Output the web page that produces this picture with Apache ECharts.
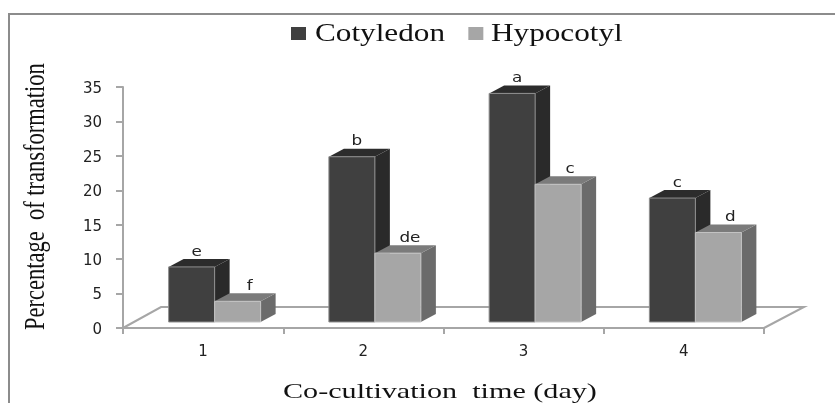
<!DOCTYPE html>
<html><head><meta charset="utf-8">
<style>html,body{margin:0;padding:0;background:#fff}#c{width:835px;height:403px}</style>
<script src="https://cdn.jsdelivr.net/npm/echarts@6/dist/echarts.min.js"></script>
</head><body><div id="c"></div>
<script>
const categories = ['1','2','3','4'];
const cotyledon = [8,24,33.2,18];
const hypocotyl = [3,10,20,13];
const cotyledonLetters = ['e','b','a','c'];
const hypocotylLetters = ['f','de','c','d'];
const xTitle = 'Co-cultivation  time (day)';
const yTitle = 'Percentage  of transformation';

const DX = 15, DY = 8, BASE = 6, BW = 46;
function bar3d(side, front, top, right, outline, letters){
  return function(params, api){
    const i = api.value(0), c = api.coord([i,0]), t = api.coord([i,api.value(1)]);
    const x0 = c[0] + 11.5 + (side<0 ? -BW : 0), x1 = x0 + BW;
    const yb = c[1] - BASE, yt = t[1] - BASE;
    return {type:'group', children:[
      {type:'polygon', shape:{points:[[x1,yt],[x1+DX,yt-DY],[x1+DX,yb-DY],[x1,yb]]}, style:{fill:right}},
      {type:'polygon', shape:{points:[[x0,yt],[x0+DX,yt-DY],[x1+DX,yt-DY],[x1,yt]]}, style:{fill:top}},
      {type:'rect', shape:{x:x0,y:yt,width:BW,height:yb-yt}, style:{fill:front, stroke:outline, lineWidth:1}},
      {type:'text', x:x0+(side<0?28:35), y:yt-15, scaleX:1.2, style:{text:letters[i], fill:'#222', font:'14px "DejaVu Sans"', align:'center', verticalAlign:'middle'}}
    ]};
  };
}
function floor(params, api){
  const c = api.coord([0,0]), d = api.coord([3,0]), half = api.size([1,0])[0]/2;
  const l = c[0]-half, r = d[0]+half;
  return {type:'polyline', shape:{points:[[l,c[1]],[l+38,c[1]-21],[r+40,c[1]-21],[r,c[1]]]}, style:{stroke:'#a6a6a6', lineWidth:2, fill:'none'}};
}
const serif = '"Liberation Serif"';
const chart = echarts.init(document.getElementById('c'), null, {renderer:'canvas'});
chart.setOption({
  animation:false,
  backgroundColor:'#fff',
  graphic:[
    {type:'polyline', shape:{points:[[9,403],[9,14],[835,14]]}, style:{stroke:'#8c8c8c', lineWidth:2, fill:'none'}, silent:true},
    {type:'text', x:315, y:34, scaleX:1.2, style:{text:'Cotyledon', font:'26px '+serif, fill:'#111', align:'left', verticalAlign:'middle'}},
    {type:'text', x:491, y:34, scaleX:1.2, style:{text:'Hypocotyl', font:'26px '+serif, fill:'#111', align:'left', verticalAlign:'middle'}},
    {type:'text', x:283, y:392, scaleX:1.37, style:{text:xTitle, font:'22px '+serif, fill:'#111', align:'left', verticalAlign:'middle'}},
    {type:'text', x:36, y:330, rotation:Math.PI/2, scaleX:0.75, style:{text:yTitle, font:'30px '+serif, fill:'#111', align:'left', verticalAlign:'middle'}}
  ],
  legend:{show:true, top:22, left:286, itemWidth:15, itemHeight:13, itemGap:154, formatter:()=>' ',
    textStyle:{fontSize:12},
    data:[{name:'Cotyledon',icon:'rect',itemStyle:{color:'#404040'}},{name:'Hypocotyl',icon:'rect',itemStyle:{color:'#a6a6a6'}}]},
  grid:{left:123, right:71, top:87, bottom:75},
  xAxis:{type:'category', data:categories,
    axisLine:{lineStyle:{color:'#a6a6a6',width:2}}, axisTick:{show:true,length:6,lineStyle:{color:'#a6a6a6',width:2}},
    axisLabel:{fontFamily:'"DejaVu Sans"', fontSize:15, color:'#222', margin:17}},
  yAxis:{type:'value', min:0, max:35, interval:5,
    axisLine:{show:true,lineStyle:{color:'#a6a6a6',width:2}}, axisTick:{show:true,length:7,lineStyle:{color:'#a6a6a6',width:2}},
    splitLine:{show:false},
    axisLabel:{fontFamily:'"DejaVu Sans"', fontSize:15, color:'#222', margin:21, verticalAlign:'top', lineHeight:4}},
  series:[
    {type:'custom', name:'floor', data:[[0,0]], renderItem:floor, z:1, silent:true},
    {type:'custom', name:'Cotyledon', itemStyle:{color:'#404040'}, data:cotyledon.map((v,i)=>[i,v]), renderItem:bar3d(-1,'#404040','#2c2c2c','#2a2a2a','#8f8f8f',cotyledonLetters), z:2, encode:{x:0,y:1}},
    {type:'custom', name:'Hypocotyl', itemStyle:{color:'#a6a6a6'}, data:hypocotyl.map((v,i)=>[i,v]), renderItem:bar3d(1,'#a6a6a6','#7b7b7b','#6b6b6b','#c4c4c4',hypocotylLetters), z:3, encode:{x:0,y:1}}
  ]
});
</script></body></html>
